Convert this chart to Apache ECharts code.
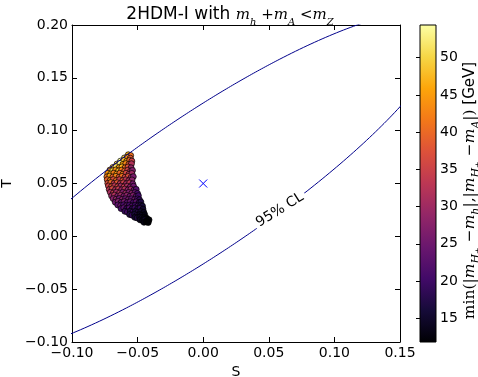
<!DOCTYPE html>
<html><head><meta charset="utf-8">
<script src="https://cdn.jsdelivr.net/npm/echarts@6/dist/echarts.min.js"></script>
<style>html,body{margin:0;padding:0;background:#fff}#c{width:478px;height:377px}</style>
</head><body><div id="c"></div>
<script>
// ---- data ----
const S_VALS = [
 -0.0571,-0.0553,
 -0.0600,-0.0579,-0.0556,
 -0.0630,-0.0606,-0.0583,-0.0561,-0.0544,
 -0.0657,-0.0634,-0.0612,-0.0590,-0.0567,-0.0547,
 -0.0688,-0.0664,-0.0641,-0.0619,-0.0596,-0.0573,-0.0550,
 -0.0711,-0.0690,-0.0667,-0.0645,-0.0622,-0.0599,-0.0576,-0.0554,-0.0539,
 -0.0727,-0.0705,-0.0682,-0.0659,-0.0636,-0.0612,-0.0589,-0.0566,-0.0544,
 -0.0734,-0.0712,-0.0689,-0.0665,-0.0641,-0.0619,-0.0596,-0.0572,-0.0549,-0.0533,
 -0.0731,-0.0708,-0.0685,-0.0662,-0.0638,-0.0613,-0.0590,-0.0567,-0.0543,
 -0.0727,-0.0704,-0.0680,-0.0656,-0.0633,-0.0608,-0.0586,-0.0561,-0.0537,
 -0.0722,-0.0699,-0.0675,-0.0652,-0.0628,-0.0604,-0.0579,-0.0556,-0.0531,
 -0.0716,-0.0693,-0.0669,-0.0646,-0.0622,-0.0598,-0.0574,-0.0551,-0.0527,-0.0511,
 -0.0708,-0.0685,-0.0662,-0.0638,-0.0614,-0.0591,-0.0567,-0.0544,-0.0520,-0.0501,
 -0.0698,-0.0676,-0.0652,-0.0629,-0.0605,-0.0582,-0.0558,-0.0535,-0.0511,-0.0494,
 -0.0686,-0.0664,-0.0640,-0.0617,-0.0593,-0.0570,-0.0547,-0.0523,-0.0501,-0.0486,
 -0.0670,-0.0648,-0.0625,-0.0602,-0.0579,-0.0556,-0.0533,-0.0511,-0.0489,-0.0475,
 -0.0651,-0.0629,-0.0607,-0.0585,-0.0563,-0.0541,-0.0519,-0.0498,-0.0477,-0.0463,
 -0.0626,-0.0605,-0.0584,-0.0563,-0.0542,-0.0521,-0.0501,-0.0481,-0.0459,
 -0.0597,-0.0577,-0.0557,-0.0537,-0.0517,-0.0497,-0.0477,-0.0453,
 -0.0561,-0.0542,-0.0523,-0.0504,-0.0485,-0.0466,-0.0446,
 -0.0521,-0.0503,-0.0485,-0.0467,-0.0449,-0.0431,
 -0.0481,-0.0463,-0.0445,-0.0427,-0.0413,
 -0.0451,-0.0433,-0.0419
];
const T_VALS = [
 0.0772,0.0765,
 0.0742,0.0748,0.0740,
 0.0712,0.0718,0.0710,0.0720,0.0712,
 0.0684,0.0690,0.0681,0.0688,0.0680,0.0687,
 0.0652,0.0659,0.0650,0.0657,0.0648,0.0656,0.0649,
 0.0627,0.0620,0.0628,0.0619,0.0626,0.0618,0.0625,0.0617,0.0624,
 0.0596,0.0590,0.0598,0.0589,0.0597,0.0588,0.0596,0.0587,0.0595,
 0.0563,0.0570,0.0561,0.0568,0.0560,0.0567,0.0559,0.0566,0.0558,0.0565,
 0.0536,0.0529,0.0537,0.0528,0.0536,0.0527,0.0535,0.0526,0.0534,
 0.0502,0.0509,0.0500,0.0507,0.0499,0.0506,0.0498,0.0505,0.0497,
 0.0477,0.0470,0.0478,0.0469,0.0476,0.0468,0.0475,0.0467,0.0474,
 0.0443,0.0450,0.0441,0.0448,0.0440,0.0447,0.0439,0.0446,0.0438,0.0445,
 0.0417,0.0410,0.0418,0.0409,0.0416,0.0408,0.0415,0.0407,0.0414,0.0406,
 0.0383,0.0390,0.0381,0.0388,0.0380,0.0387,0.0379,0.0386,0.0378,0.0385,
 0.0357,0.0350,0.0358,0.0349,0.0356,0.0348,0.0355,0.0347,0.0354,0.0346,
 0.0323,0.0330,0.0321,0.0328,0.0320,0.0327,0.0319,0.0326,0.0318,0.0325,
 0.0297,0.0290,0.0298,0.0289,0.0296,0.0288,0.0295,0.0287,0.0294,0.0286,
 0.0263,0.0270,0.0261,0.0268,0.0260,0.0267,0.0259,0.0266,0.0258,
 0.0237,0.0230,0.0238,0.0229,0.0236,0.0228,0.0235,0.0227,
 0.0207,0.0200,0.0208,0.0199,0.0206,0.0198,0.0205,
 0.0180,0.0174,0.0181,0.0173,0.0179,0.0172,
 0.0156,0.0150,0.0157,0.0151,0.0156,
 0.0133,0.0137,0.0131
];
const DM_VALS = [
 47,41,
 50,44,38,
 54.4,48,45,40,35,
 50,53,46,43,38,32,
 48,51,45,47,41,37,29,
 46,50,44,48,42,39,35,32,27,
 44,47,42,45,40,43,36,33,30,
 41,45,39,43,38,41,35,37,31,26,
 39,43,37,40,34,38,33,31,28,
 37,40,34,38,32,35,30,33,26,
 35,38,33,36,30,34,31,28,25,
 33,36,31,34,29,32,28,30,26,22,
 31,34,30,32,27,30,26,28,24,21,
 29,32,27,30,26,28,25,27,23,20,
 27,29,25,28,24,26,23,25,21,19,
 25,27,23,26,22,24,21,23,19,17,
 23,25,21,24,20,22,19,21,17,16,
 21,23,19,22,18,20,17,19,15,
 19,21,17,20,16,18,15,14,
 17,19,16,18,14,15,13,
 15,17,14,16,13,12,
 14,13,15,12.5,12,
 13,12,11.8
];
// 95% CL ellipse in the S-T plane
const FIT_CENTER = [0.0, 0.05];
const FIT_SIGMA_S = 0.0752, FIT_SIGMA_T = 0.0663, FIT_RHO = 0.883, DCHI2_95 = 5.99;
const CL_LABEL = '95% CL', CL_LABEL_AT = [0.0585, 0.025];
const X_TICKS = [-0.10, -0.05, 0.00, 0.05, 0.10, 0.15];
const Y_TICKS = [-0.10, -0.05, 0.00, 0.05, 0.10, 0.15, 0.20];
const CBAR_TICKS = [15, 20, 25, 30, 35, 40, 45, 50];
const INFERNO = ['#000004','#160b39','#420a68','#6a176e','#932667','#bc3754','#dd513a','#f37819','#fca50a','#f6d746','#fcffa4'];

// ---- build ----
const VMIN = Math.min(...DM_VALS), VMAX = Math.max(...DM_VALS);
const pts = S_VALS.map((s, i) => [s, T_VALS[i], DM_VALS[i]]);
const k = DCHI2_95;
const la = Math.sqrt(k * FIT_SIGMA_S * FIT_SIGMA_S);
const lb = k * FIT_RHO * FIT_SIGMA_S * FIT_SIGMA_T / la;
const lc = Math.sqrt(k * FIT_SIGMA_T * FIT_SIGMA_T - lb * lb);
const ell = [];
for (let i = 0; i <= 720; i++) {
  const t = 2 * Math.PI * i / 720;
  ell.push([FIT_CENTER[0] + la * Math.cos(t), FIT_CENTER[1] + lb * Math.cos(t) + lc * Math.sin(t)]);
}
const fmt = v => { if (Math.abs(v) < 1e-9) v = 0; return (v < 0 ? '\u2212' : '') + Math.abs(v).toFixed(2); };
const FONT = 'DejaVu Sans';
const mathRich = (fs, ts) => ({
  m: {fontFamily: 'DejaVu Serif', fontStyle: 'italic', fontSize: fs, lineHeight: 24, verticalAlign: 'middle'},
  r: {fontFamily: 'DejaVu Serif', fontSize: fs, lineHeight: 24, verticalAlign: 'middle'},
  s: {fontFamily: 'DejaVu Serif', fontStyle: 'italic', fontSize: Math.round(fs * 0.68), lineHeight: 14, verticalAlign: 'bottom'},
  p: {fontFamily: 'DejaVu Serif', fontSize: Math.round(fs * 0.5), lineHeight: 18, verticalAlign: 'bottom'},
  t: {fontFamily: FONT, fontSize: ts, lineHeight: 24, verticalAlign: 'middle'}
});
const cbarStops = INFERNO.map((c, i) => ({offset: i / (INFERNO.length - 1), color: c}));

const chart = echarts.init(document.getElementById('c'), null, {renderer: 'canvas'});
const frameLine = {show: true, onZero: false, lineStyle: {color: '#000', width: 1}};
const tick = {show: true, inside: true, length: 5, lineStyle: {color: '#000'}};
chart.setOption({
  animation: false,
  backgroundColor: '#fff',
  textStyle: {fontFamily: FONT},
  grid: [
    {left: 72, top: 25, width: 328, height: 317, outerBoundsMode: 'none', containLabel: false},
    {left: 420, top: 25, width: 16, height: 317, outerBoundsMode: 'none', containLabel: false,
     show: true, borderColor: '#000', borderWidth: 1, backgroundColor: 'transparent', z: 10}
  ],
  graphic: [{
    type: 'text', x: 230, y: 15, z: 100,
    style: {
      text: '{t|2HDM-I with }{m|m}{s|h}{r| +}{m|m}{s|A}{r| <}{m|m}{s|Z}',
      align: 'center', verticalAlign: 'middle', fill: '#000',
      rich: mathRich(15, 17)
    }
  }],
  xAxis: [
    {type: 'value', gridIndex: 0, min: -0.10, max: 0.15, interval: 0.05, position: 'bottom',
     axisLine: frameLine, axisTick: tick, splitLine: {show: false},
     axisLabel: {color: '#000', fontSize: 14, fontFamily: FONT, margin: 4, formatter: fmt, customValues: X_TICKS},
     name: 'S', nameLocation: 'middle', nameGap: 23, nameTextStyle: {color: '#000', fontSize: 14, fontFamily: FONT}},
    {type: 'value', gridIndex: 0, min: -0.10, max: 0.15, interval: 0.05, position: 'top',
     axisLine: frameLine, axisTick: tick, axisLabel: {show: false}, splitLine: {show: false}},
    {type: 'value', gridIndex: 1, min: 0, max: 1, show: false}
  ],
  yAxis: [
    {type: 'value', gridIndex: 0, min: -0.10, max: 0.20, interval: 0.05, position: 'left',
     axisLine: frameLine, axisTick: tick, splitLine: {show: false},
     axisLabel: {color: '#000', fontSize: 14, fontFamily: FONT, margin: 4, formatter: fmt, customValues: Y_TICKS},
     name: 'T', nameLocation: 'middle', nameGap: 53, nameTextStyle: {color: '#000', fontSize: 14, fontFamily: FONT}},
    {type: 'value', gridIndex: 0, min: -0.10, max: 0.20, interval: 0.05, position: 'right',
     axisLine: frameLine, axisTick: tick, axisLabel: {show: false}, splitLine: {show: false}},
    {type: 'value', gridIndex: 1, min: VMIN, max: VMAX, position: 'right',
     axisLine: {show: false}, splitLine: {show: false},
     axisTick: {show: true, inside: true, length: 4, lineStyle: {color: '#000'}, customValues: CBAR_TICKS},
     axisLabel: {color: '#000', fontSize: 14, fontFamily: FONT, margin: 4, customValues: CBAR_TICKS},
     name: '{r|min(|}{m|m}{s|H}{p|+}{r| \u2212}{m|m}{s|h}{r||,|}{m|m}{s|H}{p|+}{r| \u2212}{m|m}{s|A}{r||)}{t| [GeV]}',
     nameLocation: 'middle', nameGap: 20, nameRotate: 90,
     nameTextStyle: {color: '#000', padding: [0, 14, 0, 0], rich: mathRich(15.5, 15)}}
  ],
  visualMap: {
    type: 'continuous', show: false, min: VMIN, max: VMAX, dimension: 2, seriesIndex: 0,
    inRange: {color: INFERNO}
  },
  series: [
    {type: 'scatter', xAxisIndex: 0, yAxisIndex: 0, data: pts, symbol: 'circle', symbolSize: 6, z: 2,
     itemStyle: {borderColor: '#000', borderWidth: 0.7, opacity: 1}},
    {type: 'line', xAxisIndex: 0, yAxisIndex: 0, data: ell, showSymbol: false, clip: true, z: 3,
     lineStyle: {color: '#00008b', width: 1}},
    {type: 'scatter', xAxisIndex: 0, yAxisIndex: 0, data: [FIT_CENTER], z: 4,
     symbol: 'path://M0,0L10,10M10,0L0,10', symbolSize: 8,
     itemStyle: {color: 'none', borderColor: '#0000ff', borderWidth: 1, opacity: 1}},
    {type: 'scatter', xAxisIndex: 0, yAxisIndex: 0, data: [CL_LABEL_AT], z: 5, symbolSize: 1,
     itemStyle: {color: '#fff', opacity: 1},
     label: {show: true, position: 'inside', formatter: CL_LABEL, rotate: 32, fontSize: 14, fontFamily: FONT,
             color: '#000', backgroundColor: '#fff', padding: [0, 3]}},
    {type: 'custom', xAxisIndex: 2, yAxisIndex: 2, data: [[0, VMIN, VMAX]], z: 1,
     renderItem: (params, api) => {
       const p0 = api.coord([0, api.value(1)]);
       const p1 = api.coord([1, api.value(2)]);
       return {type: 'rect', shape: {x: p0[0], y: p1[1], width: p1[0] - p0[0], height: p0[1] - p1[1]},
               style: {fill: new echarts.graphic.LinearGradient(0, 1, 0, 0, cbarStops)}};
     }}
  ]
});
</script></body></html>
